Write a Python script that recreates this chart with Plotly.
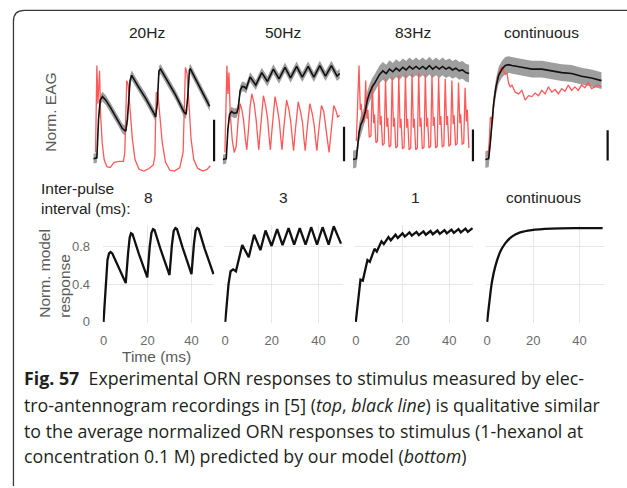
import plotly.graph_objects as go

W, H = 627, 488

# ---------------- top row: EAG recordings (time in ms, normalised amplitude) ----------------
eag_titles = ["20Hz", "50Hz", "83Hz", "continuous"]

eag1_t = [0, 5.7, 8.5, 11.4, 15.4, 21.0, 29.6, 41.0, 49.6, 55.3, 58.1, 62.7, 65.5, 75.2, 89.5, 103.7, 106.6, 109.4,
          112.3, 115.1, 126.5, 140.7, 155.0, 159.0, 161.8, 164.7, 166.4, 177.8, 189.2, 199.4]
eag1_mean = [0, 0.01, 0.44, 0.66, 0.70, 0.66, 0.57, 0.44, 0.34, 0.31, 0.44, 0.88, 0.94, 0.83, 0.68, 0.51, 0.47, 0.62,
             0.99, 1.01, 0.88, 0.72, 0.53, 0.50, 0.70, 1.00, 1.01, 0.86, 0.72, 0.59]
orn1_t = [3.4, 4.6, 5.7, 7.4, 9.1, 10.3, 12.0, 14.8, 18.2, 22.8, 28.5, 35.3, 43.9, 51.3, 53.6, 55.3, 57.0, 59.3, 62.7,
          66.7, 71.2, 78.1, 86.6, 95.2, 102.6, 105.4, 106.6, 107.7, 110.5, 114.0, 118.0, 123.6, 131.1, 139.0, 148.1,
          153.8, 155.6, 157.8, 160.7, 163.5, 167.5, 172.1, 178.9, 188.0, 194.9, 200.6]
orn1_v = [0.07, 0.44, 1.05, 0.62, 0.96, 0.99, 0.51, 0.18, -0.01, -0.09, -0.10, -0.04, -0.03, -0.03, 0.07, 0.44, 0.88,
          0.84, 0.55, 0.22, -0.01, -0.12, -0.14, -0.11, -0.07, 0.03, 0.44, 0.75, 0.73, 0.47, 0.18, -0.04, -0.13, -0.14,
          -0.10, 0.07, 0.47, 1.03, 0.96, 0.62, 0.22, -0.01, -0.11, -0.14, -0.12, -0.08]

eag2_t = [0, 5.7, 8.5, 11.4, 14.8, 19.4, 23.9, 26.2, 29.6, 33.0, 36.5, 39.9, 46.7, 56.4, 66.7, 76.4, 86.6, 96.3, 106.6,
          116.2, 126.5, 136.2, 146.4, 156.1, 166.4, 176.1, 186.3, 196.0, 200.6]
eag2_mean = [-0.01, 0, 0.33, 0.50, 0.53, 0.51, 0.52, 0.57, 0.77, 0.815, 0.81, 0.79, 0.92, 0.83, 0.97, 0.87, 1.01, 0.90,
             1.03, 0.91, 1.04, 0.92, 1.04, 0.92, 1.05, 0.93, 1.05, 0.93, 0.96]
orn2_t = [3.4, 5.1, 6.8, 8.5, 10.3, 12.5, 16.0, 19.4, 22.8, 26.2, 29.6, 32.5, 35.3, 38.7, 41.0, 43.9, 46.7, 49.6, 53.6,
          57.0, 59.3, 61.5, 64.4, 67.2, 69.5, 73.5, 76.9, 79.2, 81.5, 84.3, 87.2, 89.5, 93.4, 96.9, 99.1, 101.4, 104.3,
          107.1, 109.4, 113.4, 116.8, 119.1, 121.4, 124.2, 127.1, 129.3, 133.3, 136.8, 139.0, 141.3, 144.2, 147.0,
          149.3, 153.3, 156.7, 159.0, 161.3, 164.1, 167.0, 169.2, 173.2, 176.6, 179.5, 182.3, 185.2, 188.0, 190.3,
          193.7, 197.1, 200.6]
orn2_v = [0.07, 0.62, 1.05, 0.73, 0.97, 0.51, 0.21, 0.07, 0.14, 0.44, 0.62, 0.55, 0.44, 0.21, 0.10, 0.33, 0.59, 0.73,
          0.62, 0.44, 0.25, 0.10, 0.33, 0.59, 0.71, 0.59, 0.44, 0.25, 0.10, 0.33, 0.57, 0.70, 0.57, 0.42, 0.25, 0.10,
          0.33, 0.55, 0.66, 0.55, 0.40, 0.23, 0.09, 0.31, 0.53, 0.64, 0.53, 0.40, 0.23, 0.09, 0.31, 0.51, 0.62, 0.51,
          0.38, 0.22, 0.09, 0.29, 0.49, 0.60, 0.53, 0.38, 0.21, 0.07, 0.29, 0.51, 0.60, 0.55, 0.47, 0.49]

eag3_t = [0, 5.7, 8.0, 10.3, 13.1, 17.1, 21.1, 24.5, 28.5, 33.0, 37.0, 41.0, 45.6, 51.3, 57.0, 62.7, 68.4, 74.1, 79.8,
          85.5, 91.2, 96.9, 102.6, 108.3, 114.0, 119.7, 125.4, 131.1, 136.8, 142.5, 148.1, 153.8, 159.5, 165.2, 170.9,
          176.6, 182.3, 188.0, 193.7, 199.4]
eag3_mean = [-0.01, 0, 0.14, 0.29, 0.38, 0.44, 0.53, 0.66, 0.74, 0.81, 0.85, 0.90, 0.95, 0.99, 0.96, 1.01, 0.98, 1.02,
             0.99, 1.03, 1.00, 1.04, 1.01, 1.04, 1.01, 1.04, 1.01, 1.05, 1.01, 1.04, 1.01, 1.04, 1.01, 1.03, 1.00, 1.02,
             0.99, 1.00, 0.97, 0.96]
orn3_t = [5.7, 8.0, 10.3, 12.5, 14.0, 16.5, 19.4, 21.7, 24.0, 25.5, 28.0, 30.8, 33.1, 35.4, 36.9, 39.4, 42.1, 44.4,
          46.7, 48.2, 50.7, 53.5, 55.8, 58.1, 59.6, 62.1, 64.9, 67.2, 69.5, 71.0, 73.5, 76.3, 78.6, 80.9, 82.4, 84.9,
          87.7, 90.0, 92.3, 93.8, 96.3, 99.1, 101.4, 103.7, 105.2, 107.7, 110.5, 112.8, 115.1, 116.6, 119.1, 121.9,
          124.2, 126.5, 128.0, 130.5, 133.3, 135.6, 137.9, 139.4, 141.9, 144.7, 147.0, 149.3, 150.8, 153.3, 156.1,
          158.4, 160.7, 162.2, 164.7, 167.5, 169.8, 172.1, 173.6, 176.1, 178.9, 181.2, 183.5, 185.0, 187.5, 190.2,
          192.5, 194.8, 196.3, 199.0]
orn3_v = [0.20, 0.55, 1.05, 0.55, 0.62, 0.40, 0.42, 0.88, 0.45, 0.55, 0.24, 0.26, 0.85, 0.40, 0.50, 0.18, 0.20, 0.87,
          0.38, 0.48, 0.15, 0.17, 0.90, 0.36, 0.46, 0.13, 0.15, 0.92, 0.36, 0.46, 0.12, 0.14, 0.94, 0.35, 0.45, 0.11,
          0.13, 0.95, 0.35, 0.45, 0.10, 0.12, 0.96, 0.35, 0.45, 0.10, 0.12, 0.97, 0.36, 0.46, 0.11, 0.13, 0.95, 0.36,
          0.46, 0.12, 0.14, 0.94, 0.37, 0.47, 0.12, 0.14, 0.92, 0.38, 0.48, 0.13, 0.15, 0.90, 0.38, 0.48, 0.14, 0.16,
          0.88, 0.39, 0.49, 0.15, 0.17, 0.86, 0.40, 0.50, 0.16, 0.18, 0.80, 0.42, 0.55, 0.12]

eag4_t = [0, 5.7, 8.5, 11.4, 14.2, 18.2, 22.8, 28.5, 34.2, 39.9, 45.6, 62.7, 79.8, 96.9, 114.0, 131.1, 148.1, 165.2,
          182.3, 199.4]
eag4_mean = [-0.01, 0, 0.18, 0.40, 0.62, 0.81, 0.94, 1.01, 1.05, 1.06, 1.05, 1.03, 1.01, 1.01, 0.99, 0.97, 0.96, 0.93,
             0.91, 0.88]
orn4_t = [4.6, 6.8, 8.5, 10.3, 12.0, 14.2, 17.1, 19.9, 22.8, 25.6, 28.5, 31.3, 34.2, 37.0, 39.9, 42.7, 45.6, 51.3,
          57.0, 62.7, 68.4, 74.1, 79.8, 85.5, 91.2, 96.9, 102.6, 108.3, 114.0, 119.7, 125.4, 131.1, 136.8, 142.5,
          148.1, 153.8, 159.5, 165.2, 170.9, 176.6, 182.3, 188.0, 193.7, 199.4]
orn4_v = [0.03, 0.21, 0.46, 0.47, 0.40, 0.62, 0.77, 0.88, 0.96, 1.01, 1.04, 0.99, 0.95, 0.97, 0.85, 0.81, 0.83, 0.75,
          0.73, 0.77, 0.66, 0.71, 0.70, 0.74, 0.71, 0.77, 0.73, 0.81, 0.75, 0.78, 0.73, 0.79, 0.76, 0.83, 0.77, 0.81,
          0.77, 0.83, 0.80, 0.86, 0.79, 0.81, 0.83, 0.81]

eag_t = [eag1_t, eag2_t, eag3_t, eag4_t]
eag_mean = [eag1_mean, eag2_mean, eag3_mean, eag4_mean]
eag_sem = [0.055, 0.055, 0.10, 0.095]
orn_t = [orn1_t, orn2_t, orn3_t, orn4_t]
orn_v = [orn1_v, orn2_v, orn3_v, orn4_v]
scalebar_t = [207, 208, 206, 210]
scalebar_lo = [-0.03, -0.03, -0.03, -0.02]
scalebar_hi = [0.44, 0.36, 0.33, 0.32]

# ---------------- bottom row: model responses ----------------
interval_labels = ["8", "3", "1", "continuous"]
m1_t = [0, 1.0, 1.8, 2.5, 3.2, 4.0, 6.0, 8.0, 10.1, 11.2, 11.9, 12.5, 13.2, 16.0, 18.0, 19.9, 21.0, 21.8, 22.5, 23.2,
        26.0, 28.0, 30.0, 31.1, 31.9, 32.7, 33.4, 36.0, 38.0, 40.0, 41.1, 41.9, 42.6, 43.3, 46.0, 48.0, 50.0]
m1_v = [0, 0.40, 0.66, 0.73, 0.745, 0.73, 0.62, 0.52, 0.414, 0.74, 0.90, 0.945, 0.935, 0.73, 0.60, 0.474, 0.80, 0.95,
        0.99, 0.98, 0.77, 0.63, 0.50, 0.82, 0.97, 1.0, 0.99, 0.79, 0.65, 0.51, 0.83, 0.975, 1.0, 0.99, 0.78, 0.65, 0.51]
m2_t = [0, 1.4, 2.3, 3.4, 4.6, 7.3, 10.1, 12.4, 15.1, 17.3, 19.9, 22.3, 24.6, 27.2, 29.6, 32.0, 34.5, 36.9, 39.4, 41.8,
        44.4, 46.6, 49.7]
m2_v = [0, 0.40, 0.54, 0.56, 0.54, 0.82, 0.69, 0.93, 0.765, 0.975, 0.81, 0.99, 0.82, 1.0, 0.825, 1.0, 0.825, 1.01,
        0.825, 1.01, 0.825, 1.02, 0.835]
m3_t = [0, 1, 2, 3, 5, 6, 8, 9, 11, 12, 14, 15, 17, 18, 20, 21, 23, 24, 26, 27, 29, 30, 32, 33, 35, 36, 38, 39, 41, 42,
        44, 45, 47, 48, 50]
m3_v = [0, 0.22, 0.45, 0.44, 0.66, 0.64, 0.78, 0.75, 0.86, 0.83, 0.905, 0.87, 0.93, 0.895, 0.945, 0.91, 0.955, 0.92,
        0.96, 0.925, 0.965, 0.93, 0.97, 0.935, 0.975, 0.94, 0.98, 0.945, 0.985, 0.95, 0.99, 0.955, 0.995, 0.96, 1.0]
m4_t = [0, 1, 2.1, 3.6, 5.7, 7.9, 10.7, 14.3, 19.3, 27.9, 39.3, 50]
m4_v = [0, 0.22, 0.43, 0.60, 0.75, 0.84, 0.91, 0.955, 0.98, 0.995, 1.0, 1.0]
model_t = [m1_t, m2_t, m3_t, m4_t]
model_v = [m1_v, m2_v, m3_v, m4_v]
model_shape = ["linear", "linear", "linear", "spline"]

x_tick_vals = [0, 20, 40]
x_tick_text = ["0", "20", "40"]
y_tick_vals = [0, 0.4, 0.8]
y_tick_text = ["0", "0.4", "0.8"]

caption_lines = [
    "<b>Fig. 57</b>\u00a0\u00a0Experimental ORN responses to stimulus measured by elec-",
    "tro-antennogram recordings in [5] (<i>top</i>, <i>black line</i>) is qualitative similar",
    "to the average normalized ORN responses to stimulus (1-hexanol at",
    "concentration 0.1 M) predicted by our model (<i>bottom</i>)",
]

# ---------------- layout geometry (pixels) ----------------
LBL = "Liberation Sans, Arial, sans-serif"
CAP = "Open Sans, Noto Sans, sans-serif"

top_t0_px = [91, 221, 351.7, 484.7]
top_s = 0.585
top_xr = [-5, 215]
top_v0_py, top_sy = 161, 90
top_yr = [-0.25, 1.2]

bot_t0_px = [101, 223.3, 354.5, 486.5]
bot_s = [2.21, 2.34, 2.345, 2.32]
bot_xr = [-0.4, 50.4]
bot_v0_py, bot_sy = 326.5, 95
bot_yr = [-0.01, 1.03]


def px(x):
    return x / W


def py(y):
    return 1 - y / H


fig = go.Figure()
layout = {}

for i in range(4):
    n = i + 1
    sx = "" if n == 1 else str(n)
    xa, ya = "x" + sx, "y" + sx
    x0 = top_t0_px[i]
    layout["xaxis" + sx] = dict(domain=[px(x0 + top_xr[0] * top_s), px(x0 + top_xr[1] * top_s)], range=top_xr,
                                visible=False, anchor=ya)
    layout["yaxis" + sx] = dict(domain=[py(top_v0_py - top_yr[0] * top_sy), py(top_v0_py - top_yr[1] * top_sy)],
                                range=top_yr, visible=False, anchor=xa)
    t = eag_t[i]
    m = eag_mean[i]
    s = eag_sem[i]
    up = [v + s for v in m]
    lo = [v - s for v in m]
    fig.add_trace(go.Scatter(x=t + t[::-1], y=up + lo[::-1], fill="toself", fillcolor="rgb(158,158,158)",
                             line=dict(width=0), mode="lines", xaxis=xa, yaxis=ya, hoverinfo="skip"))
    fig.add_trace(go.Scatter(x=orn_t[i], y=orn_v[i], mode="lines", line=dict(color="rgb(255,88,88)", width=1.3),
                             xaxis=xa, yaxis=ya))
    fig.add_trace(go.Scatter(x=t, y=m, mode="lines", line=dict(color="#111111", width=1.6), xaxis=xa, yaxis=ya))
    fig.add_trace(go.Scatter(x=[scalebar_t[i], scalebar_t[i]], y=[scalebar_lo[i], scalebar_hi[i]], mode="lines",
                             line=dict(color="#111111", width=2.2), xaxis=xa, yaxis=ya))

for i in range(4):
    n = i + 5
    sx = str(n)
    xa, ya = "x" + sx, "y" + sx
    x0 = bot_t0_px[i]
    layout["xaxis" + sx] = dict(domain=[px(x0 + bot_xr[0] * bot_s[i]), px(x0 + bot_xr[1] * bot_s[i])], range=bot_xr,
                                anchor=ya, showgrid=True, gridcolor="#e6e6e6", gridwidth=1, zeroline=False,
                                showline=False, tickvals=x_tick_vals, ticktext=x_tick_text, ticks="outside",
                                ticklen=6, tickcolor="rgba(0,0,0,0)",
                                tickfont=dict(family=LBL, size=13, color="#6a6a6a"))
    layout["yaxis" + sx] = dict(domain=[py(bot_v0_py - bot_yr[0] * bot_sy), py(bot_v0_py - bot_yr[1] * bot_sy)],
                                range=bot_yr, anchor=xa, showgrid=True, gridcolor="#e6e6e6", gridwidth=1,
                                zeroline=False, showline=False, tickvals=y_tick_vals, ticktext=y_tick_text,
                                showticklabels=(i == 0), ticks="outside" if i == 0 else "", ticklen=9,
                                tickcolor="rgba(0,0,0,0)", tickfont=dict(family=LBL, size=13, color="#6a6a6a"))
    fig.add_trace(go.Scatter(x=model_t[i], y=model_v[i], mode="lines",
                             line=dict(color="#111111", width=2.3, shape=model_shape[i]), xaxis=xa, yaxis=ya))

annotations = []


def label(text, x, y, size=15.5, color="#222222", angle=0, xanchor="center", family=LBL):
    annotations.append(dict(text=text, x=px(x), y=py(y), xref="paper", yref="paper", showarrow=False,
                            xanchor=xanchor, yanchor="middle", textangle=angle, align="left",
                            font=dict(family=family, size=size, color=color)))


for txt, x in zip(eag_titles, [144.7, 281.5, 411.7, 540.8]):
    label(txt, x, 33)
for txt, x in zip(interval_labels, [146, 281.7, 414.3, 543.3]):
    label(txt, x, 200.5)
label("Inter-pulse<br>interval (ms):", 36, 201.5, xanchor="left")
label("Norm. EAG", 47.5, 114, color="#5a5a5a", angle=-90)
label("Norm. model<br>response", 51, 277, color="#5a5a5a", angle=-90)
label("Time (ms)", 154, 362, color="#5a5a5a")

for j, (line, y) in enumerate(zip(caption_lines, [384, 410.5, 437, 463])):
    label(line, 19, y, size=17.8, color="#231f20", xanchor="left", family=CAP)

# rounded figure frame
r = 11
x_l, y_t = 10.5, 10.5
path = (f"M {px(x_l)},{py(H + 5)} L {px(x_l)},{py(y_t + r)} "
        f"Q {px(x_l)},{py(y_t)} {px(x_l + r)},{py(y_t)} L {px(W + 20)},{py(y_t)}")
shapes = [dict(type="path", path=path, xref="paper", yref="paper", line=dict(color="#3a3a3a", width=1.3))]

layout.update(dict(width=W, height=H, margin=dict(l=0, r=0, t=0, b=0), paper_bgcolor="white",
                   plot_bgcolor="white", showlegend=False, annotations=annotations, shapes=shapes))
fig.update_layout(**layout)

page_fix = (
    "document.documentElement.style.margin='0';document.documentElement.style.padding='0';"
    "document.documentElement.style.overflow='hidden';"
    "document.body.style.margin='0';document.body.style.padding='0';document.body.style.overflow='hidden';"
    "document.body.style.height='488px';document.documentElement.style.height='488px';"
)
fig.write_html("out.html", config={"displayModeBar": False}, post_script=page_fix)
